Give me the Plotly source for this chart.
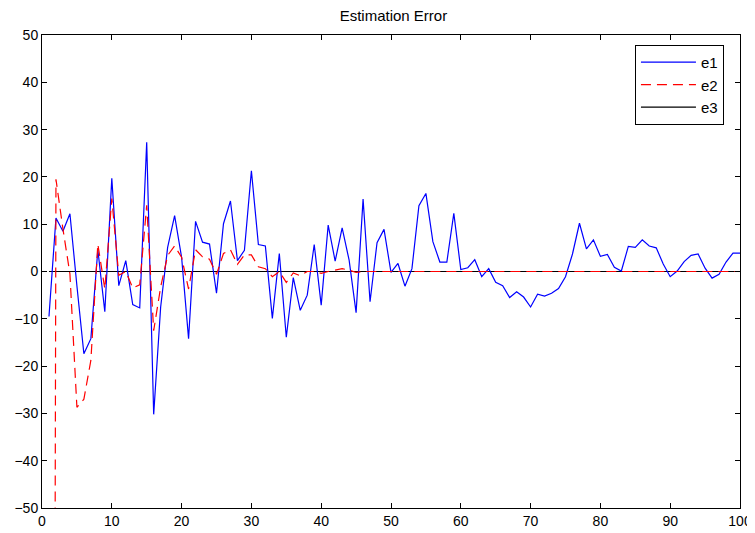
import plotly.graph_objects as go

# sample index 1..100
steps = list(range(1, 101))

e1 = [-9.5, 11.3, 8.5, 12.2, -3.0, -17.4, -14.2, 4.6, -8.5, 19.7,
      -3.0, 2.3, -7.0, -7.7, 27.3, -30.2, -7.5, 5.1, 11.8, 3.0,
      -14.2, 10.6, 6.2, 5.8, -4.6, 10.1, 14.9, 2.3, 4.5, 21.3,
      5.7, 5.4, -9.9, 3.8, -13.9, -1.3, -8.2, -5.0, 5.7, -7.1,
      9.8, 2.2, 9.2, 2.4, -8.7, 15.3, -6.4, 6.1, 8.9, -0.2,
      1.7, -3.1, 0.6, 13.9, 16.5, 6.3, 2.0, 2.0, 12.3, 0.4,
      0.8, 2.5, -1.1, 0.6, -2.3, -3.0, -5.5, -4.3, -5.4, -7.5,
      -4.8, -5.2, -4.6, -3.6, -1.1, 3.7, 10.2, 4.8, 6.7, 3.2,
      3.6, 0.9, 0.1, 5.3, 5.1, 6.7, 5.4, 5.0, 1.6, -1.1,
      0.1, 2.1, 3.4, 3.7, 0.7, -1.4, -0.6, 2.0, 3.9, 3.9]

e2 = [-600.0, 19.5, 9.0, -0.5, -28.7, -27.0, -18.8, 5.8, -3.7, 15.4,
      -0.8, 0.0, -3.5, -2.8, 14.0, -12.5, -3.3, 3.4, 5.4, 3.0,
      -3.7, 4.6, 3.1, 2.6, -0.6, 3.8, 4.6, 1.5, 3.5, 3.5,
      1.0, 0.6, -1.1, 0.0, -2.3, -0.3, -0.9, 0.0, 0.0, -0.4,
      0.0, 0.3, 0.6, 0.3, -0.2, 0.0, 0.0, 0.0, 0.0, 0.0,
      0.0, 0.0, 0.0, 0.0, 0.0, 0.0, 0.0, 0.0, 0.0, 0.0,
      0.0, 0.0, 0.0, 0.0, 0.0, 0.0, 0.0, 0.0, 0.0, 0.0,
      0.0, 0.0, 0.0, 0.0, 0.0, 0.0, 0.0, 0.0, 0.0, 0.0,
      0.0, 0.0, 0.0, 0.0, 0.0, 0.0, 0.0, 0.0, 0.0, 0.0,
      0.0, 0.0, 0.0, 0.0, 0.0, 0.0, 0.0, 0.0, 0.0, 0.0]

e3 = [0.0] * 100

fig = go.Figure()

# e3 goes in first so the other two lie over it
fig.add_trace(go.Scatter(x=steps, y=e3, mode="lines", name="e3", legendrank=3,
                         line=dict(color="black", width=1.2)))
fig.add_trace(go.Scatter(x=steps, y=e1, mode="lines", name="e1", legendrank=1,
                         line=dict(color="#0000ff", width=1.2)))
fig.add_trace(go.Scatter(x=steps, y=e2, mode="lines", name="e2", legendrank=2,
                         line=dict(color="#ff0000", width=1.2, dash="10px,6px")))

axis_style = dict(showgrid=False, zeroline=False, showline=True, mirror="ticks",
                  linecolor="black", linewidth=1, ticks="inside", ticklen=5,
                  tickcolor="black", dtick=10, automargin=False,
                  tickfont=dict(family="Liberation Sans, Arial", size=14, color="black"))

fig.update_xaxes(range=[0, 100], tick0=0, **axis_style)
fig.update_yaxes(range=[-50, 50], tick0=-50, **axis_style)

# the page body adds an 8px margin, so the figure is a bit smaller than the window
fig.update_layout(
    width=747, height=525,
    margin=dict(l=34, r=15, t=27, b=25),
    plot_bgcolor="white", paper_bgcolor="white",
    title=dict(text="Estimation Error", x=0.516, xanchor="center",
               yref="container", y=0.985, yanchor="middle",
               font=dict(family="Liberation Sans, Arial", size=15, color="black")),
    legend=dict(x=0.977, xanchor="right", y=0.979, yanchor="top",
                bgcolor="white", bordercolor="black", borderwidth=1,
                itemwidth=55,
                font=dict(family="Liberation Sans, Arial", size=15, color="black")),
)

fig.write_html("out.html")
